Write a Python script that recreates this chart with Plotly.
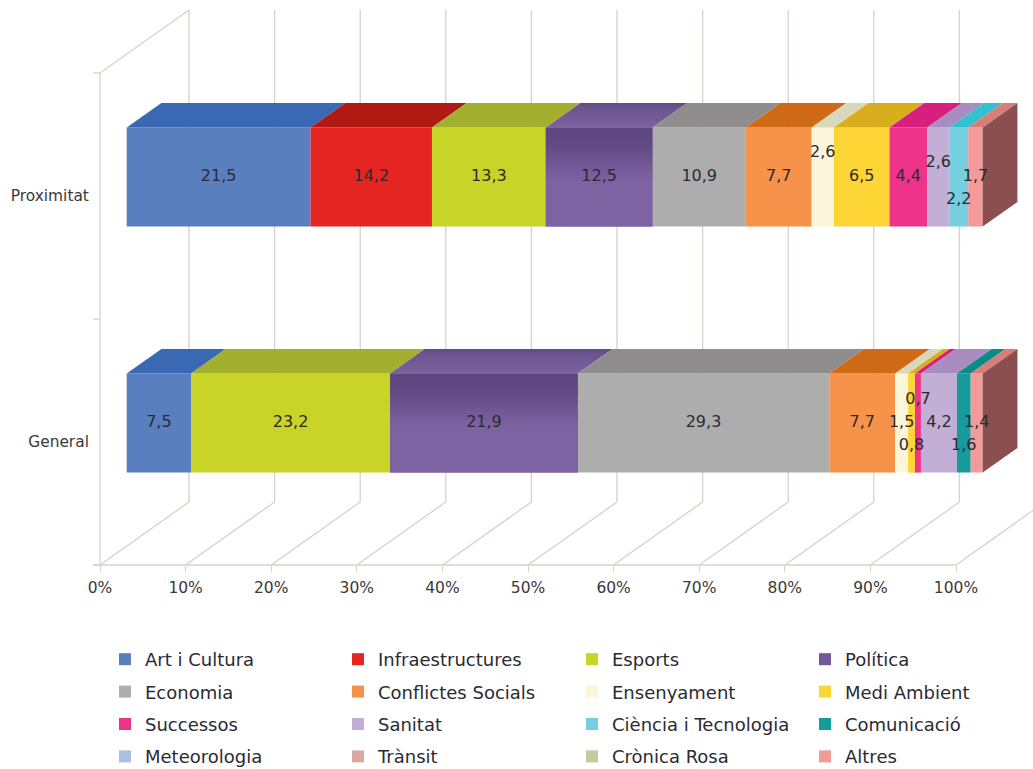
import plotly.graph_objects as go

categories = ["General", "Proximitat"]
series = ["Art i Cultura", "Infraestructures", "Esports", "Política", "Economia", "Conflictes Socials",
          "Ensenyament", "Medi Ambient", "Successos", "Sanitat", "Ciència i Tecnologia", "Comunicació",
          "Meteorologia", "Trànsit", "Crònica Rosa", "Altres"]
general = [7.5, None, 23.2, 21.9, 29.3, 7.7, 1.5, 0.8, 0.7, 4.2, None, 1.6, None, None, None, 1.4]
proximitat = [21.5, 14.2, 13.3, 12.5, 10.9, 7.7, 2.6, 6.5, 4.4, 2.6, 2.2, None, None, None, None, 1.7]
x_ticks = list(range(0, 101, 10))

front = ["#5a7fbe", "#e52521", "#c8d528", "#725998", "#aeadad", "#f6924a", "#fbf6da", "#fdd535",
         "#ee3488", "#c3aed6", "#75cfe0", "#169a9c", "#a9c0e0", "#dba9a3", "#bfcca0", "#f39a9a"]
top = ["#3a68b2", "#b01a13", "#a3b02f", "#6c5792", "#8f8d8d", "#cf6a16", "#d8d8bc", "#d9ae1e",
       "#d91f7e", "#a98cc0", "#33c0d0", "#0c8a88", "#8aa6d0", "#c08a84", "#a5b585", "#d87e75"]
side_color = "#8b4f4f"
grid = "#d9d0cb"
ink = "#2b2a33"
legend_cols = [["Art i Cultura", "Economia", "Successos", "Meteorologia"],
               ["Infraestructures", "Conflictes Socials", "Sanitat", "Trànsit"],
               ["Esports", "Ensenyament", "Ciència i Tecnologia", "Crònica Rosa"],
               ["Política", "Medi Ambient", "Comunicació", "Altres"]]
# vertical nudges of crowded value labels, in pixels (up is positive)
nudge = {(1, "Ensenyament"): 24, (1, "Sanitat"): 14, (1, "Ciència i Tecnologia"): -23,
         (0, "Medi Ambient"): -23, (0, "Successos"): 23, (0, "Comunicació"): -23}

W, H = 1033, 769
X0, PX = 100, 8.56          # pixel of 0 %, pixels per percent
Y0, PY = 565, 246           # pixel of axis floor, pixels per category band
DX, DY = 89 / PX, 63 / PY   # depth vector in data units
D0, D1 = 0.30, 0.69         # bar depth start/end
THICK = 99 / PY


def proj(x, y, d):
    return x + d * DX, y + d * DY


fig = go.Figure()
values = [general, proximitat]
# 100 % stacked: each row is scaled so that its parts fill the axis
scale = [100 / sum(v or 0 for v in row) for row in values]
cum = [0, 0]
bases = {}
for i, name in enumerate(series):
    bases[name] = [cum[0], cum[1]]
    cum = [cum[k] + (values[k][i] or 0) * scale[k] for k in range(2)]

# front faces
col_of = {n: c for c, col in enumerate(legend_cols) for n in col}
for i, name in enumerate(series):
    c = col_of[name]
    fig.add_trace(go.Bar(
        name=name, orientation="h", legend="legend" if c == 0 else f"legend{c + 1}", legendgroup=name,
        y=[k + 0.5 + D0 * DY for k in range(2)],
        x=[(values[k][i] or 0) * scale[k] for k in range(2)],
        base=[bases[name][k] + D0 * DX for k in range(2)],
        width=THICK, marker=dict(color=front[i], line=dict(width=0)),
        cliponaxis=False, hoverinfo="name+x"))

# top faces and the gradient of the Política block
for i, name in enumerate(series):
    for k in range(2):
        if not values[k][i]:
            continue
        v = values[k][i] * scale[k]
        b = bases[name][k]
        ytop = k + 0.5 + THICK / 2
        pts = [proj(b, ytop, D0), proj(b + v, ytop, D0), proj(b + v, ytop, D1), proj(b, ytop, D1), proj(b, ytop, D0)]
        style = dict(fill="toself", fillcolor=top[i])
        if name == "Política":
            style = dict(fill="toself", fillgradient=dict(
                type="vertical", colorscale=[[0, "#7d62a0"], [0.8, "#6a5590"], [1, "#5e4a85"]]))
        fig.add_trace(go.Scatter(x=[p[0] for p in pts], y=[p[1] for p in pts], mode="none", showlegend=False,
                                 hoverinfo="skip", **style))
        if name == "Política":
            yl, yh = k + 0.5 + D0 * DY - THICK / 2, k + 0.5 + D0 * DY + THICK / 2
            xl, xh = b + D0 * DX, b + v + D0 * DX
            fig.add_trace(go.Scatter(
                x=[xl, xh, xh, xl, xl], y=[yl, yl, yh, yh, yl], mode="none", fill="toself", showlegend=False,
                hoverinfo="skip",
                fillgradient=dict(type="vertical",
                                  colorscale=[[0, "#7e63a3"], [0.45, "#7e63a3"], [0.85, "#604882"], [1, "#5e4680"]])))

# right end faces
for k in range(2):
    yl, yh = k + 0.5 - THICK / 2, k + 0.5 + THICK / 2
    pts = [proj(100, yl, D0), proj(100, yh, D0), proj(100, yh, D1), proj(100, yl, D1), proj(100, yl, D0)]
    fig.add_trace(go.Scatter(x=[p[0] for p in pts], y=[p[1] for p in pts], mode="none", fill="toself",
                             fillcolor=side_color, showlegend=False, hoverinfo="skip"))

# value labels
lx, ly, lt = [], [], []
for i, name in enumerate(series):
    for k in range(2):
        if not values[k][i]:
            continue
        cx, cy = proj(bases[name][k] + values[k][i] * scale[k] / 2, k + 0.5, D0)
        lx.append(cx)
        ly.append(cy + nudge.get((k, name), 0) / PY)
        lt.append(f"{values[k][i]:.1f}".replace(".", ","))
fig.add_trace(go.Scatter(x=lx, y=ly, text=lt, mode="text", showlegend=False, hoverinfo="skip",
                         textfont=dict(family="DejaVu Sans", size=16, color=ink)))

# frame, floor and back wall
shapes = []


def line(x0, y0, x1, y1):
    shapes.append(dict(type="line", xref="x", yref="y", layer="below", x0=x0, y0=y0, x1=x1, y1=y1,
                       line=dict(color=grid, width=1.3)))


top_y = (Y0 - 73) / PY
for t in x_ticks:
    bx, by = proj(t, 0, 1)
    line(t, 0, bx, by)
    line(bx, by, bx, (Y0 - 10) / PY)
line(-7 / PX, 0, 100, 0)
line(0, 0, 0, top_y)
bx, by = proj(0, top_y, 1)
line(0, top_y, bx, by)
for k in range(3):
    line(-7 / PX, k, 0, k)

fig.update_layout(
    width=W, height=H, autosize=False, margin=dict(l=0, r=0, t=0, b=0, autoexpand=False),
    paper_bgcolor="white", plot_bgcolor="white", barmode="overlay", shapes=shapes,
    font=dict(family="DejaVu Sans", color=ink),
    xaxis=dict(domain=[0, 1], range=[-X0 / PX, (W - X0) / PX], anchor="free", position=(H - Y0) / H,
               tickvals=x_ticks, ticktext=[f"{t}%" for t in x_ticks], ticks="outside", ticklen=6,
               ticklabelstandoff=2, tickcolor=grid, tickwidth=1.3, showgrid=False, zeroline=False, showline=False,
               tickfont=dict(size=15.5, color="#3d383b")),
    yaxis=dict(domain=[0, 1], range=[(Y0 - H) / PY, Y0 / PY], anchor="free", position=X0 / W,
               tickvals=[0.5, 1.5], ticktext=categories, ticks="outside", ticklen=8, tickcolor="rgba(0,0,0,0)",
               showgrid=False, zeroline=False, showline=False,
               tickfont=dict(size=15.4, color="#3d383b")),
)

legend_x = [105, 338, 572, 805]
for c, lx0 in enumerate(legend_x):
    fig.update_layout({("legend" if c == 0 else f"legend{c + 1}"): dict(
        x=lx0 / W, xanchor="left", y=1 - 641 / H, yanchor="top", bgcolor="rgba(0,0,0,0)",
        orientation="v", tracegroupgap=6, font=dict(family="DejaVu Sans", size=18, color=ink),
        traceorder="grouped")})

fig.write_html("out.html", config=dict(displayModeBar=False),
               post_script="document.body.style.margin='0';document.documentElement.style.overflow='hidden';")
